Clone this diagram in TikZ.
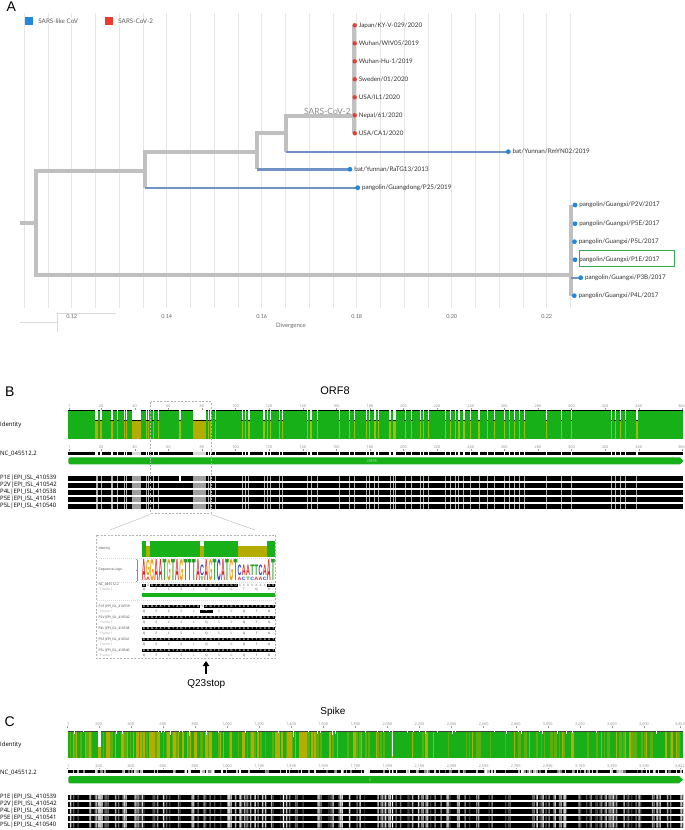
\documentclass[tikz,border=0pt]{standalone}
\usepackage{fontspec}
\setmainfont{Liberation Sans}
\setmonofont{Liberation Mono}
\newfontfamily\latofont{Lato}
\newfontfamily\osfont{Open Sans}
\usepackage{graphicx}
\usepackage{tikz}
\usetikzlibrary{positioning,arrows.meta}

\definecolor{branchgrey}{RGB}{192,192,192}
\definecolor{branchblue}{RGB}{112,146,196}
\definecolor{dotblue}{RGB}{35,135,220}
\definecolor{dotred}{RGB}{232,60,50}
\definecolor{gridgrey}{RGB}{230,230,230}
\definecolor{idgreen}{RGB}{24,176,24}
\definecolor{idolive}{RGB}{180,172,0}
\definecolor{idlime}{RGB}{150,192,10}
\definecolor{boxgreen}{RGB}{50,170,80}
\definecolor{logoA}{RGB}{225,40,40}
\definecolor{logoC}{RGB}{40,70,210}
\definecolor{logoG}{RGB}{240,160,0}
\definecolor{logoT}{RGB}{40,160,40}

% one alignment cell, one codon cell
\newcommand\ntc[1]{\makebox[4.17pt]{#1}}
\newcommand\ntd[1]{\makebox[4.17pt]{\color{black!40}#1}}
\newcommand\aac[1]{\makebox[12.51pt]{#1}}
\newcommand\pangrow[1]{\ntc{A}\ntc{G}\ntc{G}\ntc{A}\ntc{A}\ntc{T}\ntc{G}\ntc{T}\ntc{A}\ntc{G}\ntc{T}\ntc{T}\ntc{T}\ntc{A}#1\ntc{A}\ntc{G}\ntc{T}\ntc{C}\ntc{A}\ntc{T}\ntc{G}\ntc{T}\ntc{C}\ntc{A}\ntc{A}\ntc{T}\ntc{T}\ntc{C}\ntc{A}\ntc{A}\ntc{T}}

\tikzset{
  panel/.style={font=\fontsize{14}{14}\selectfont, inner sep=0pt, anchor=base west},
  paneltitle/.style={inner sep=0pt, anchor=base},
  gridline/.style={draw=gridgrey, line width=0.6pt},
  trunk/.style={draw=branchgrey, line width=4pt},
  twig/.style={draw=branchblue, line width=2.4pt},
  reddot/.style={circle, fill=dotred, inner sep=0pt, minimum size=4.4pt},
  bluedot/.style={circle, fill=dotblue, inner sep=0pt, minimum size=4.8pt},
  tiplabel/.style={font=\latofont\fontsize{6.3}{7}\selectfont, text=black!80, inner sep=0.5pt, anchor=west},
  leglbl/.style={font=\latofont\fontsize{6.3}{7}\selectfont, text=black!65, fill=white, inner sep=0.5pt, anchor=west},
  legsq/.style={inner sep=0pt, minimum size=8pt},
  axislbl/.style={font=\latofont\fontsize{5.5}{6}\selectfont, text=black!60, inner sep=0pt},
  rulerlbl/.style={font=\osfont\fontsize{3.8}{4}\selectfont, text=black!45, inner sep=0pt},
  rulertick/.style={draw=black!40, line width=0.3pt},
  rowlbl/.style={font=\osfont\fontsize{6}{7}\selectfont, inner sep=0pt, anchor=west},
  cdslbl/.style={font=\osfont\fontsize{4}{4}\selectfont, text=idgreen!35!white, inner sep=0pt},
  zoombox/.style={draw=black!30, dash pattern=on 2pt off 1.5pt, line width=0.5pt},
  pointer/.style={draw=black!25, line width=0.5pt},
  sepline/.style={draw=black!15, dash pattern=on 1pt off 1pt, line width=0.3pt},
  insetlbl/.style={font=\osfont\fontsize{3.3}{3.6}\selectfont, inner sep=0pt, anchor=west, text=black!75},
  framelbl/.style={insetlbl, text=black!35},
  aarow/.style={font=\osfont\fontsize{3.1}{3.3}\selectfont, inner sep=0pt, text=black!70, anchor=west},
  ntrow/.style={font=\fontsize{3}{3}\selectfont\bfseries, inner sep=0pt, text=black!4, anchor=west},
  logoletter/.style={font=\bfseries, inner sep=0pt, anchor=south},
}

\begin{document}
\begin{tikzpicture}[x=1pt, y=-1pt]
\useasboundingbox (0,0) rectangle (685,830);
\fill[white] (0,0) rectangle (685,830);

% ---------- A: tree ----------
\node[panel] (lblA) at (6.5,11.7) {A};

\foreach \k in {0,...,23}
  \draw[gridline] ({24.2+\k*23.75},13) -- ({24.2+\k*23.75},308);
\foreach \d/\x [count=\n] in {0.12/71.7, 0.14/166.7, 0.16/261.7, 0.18/356.7, 0.20/451.7, 0.22/546.7}
  \node[axislbl] (tick\n) at (\x,317) {\d};
\node[axislbl, font=\latofont\fontsize{6}{7}\selectfont] (axisName) at (291,326) {Divergence};
\draw[black!15, line width=0.6pt] (20,322.7) -- (57,322.7) (57,313) -- (57,332) (57,313) -- (116,313);

\node[legsq, fill=dotblue] (legBlue) at (29,21) {};
\node[leglbl, right=4.5pt of legBlue] (legBlueLab) {SARS-like CoV};
\node[legsq, fill=dotred] (legRed) at (109,21) {};
\node[leglbl, right=4.5pt of legRed] (legRedLab) {SARS-CoV-2};

% internal nodes
\coordinate (root) at (20,222.7);
\coordinate (n0) at (36,222.7);
\coordinate (n1) at (144.7,170.7);
\coordinate (n2) at (257,151.7);
\coordinate (n3) at (286,133.3);
\coordinate (sc2) at (354,115.7);
\coordinate (gx) at (571,275);
% tips
\coordinate (t1) at (354.7,25.3);
\coordinate (t2) at (354.7,43.3);
\coordinate (t3) at (354.7,61.3);
\coordinate (t4) at (354.7,79.3);
\coordinate (t5) at (354.7,97.3);
\coordinate (t6) at (354.7,115.3);
\coordinate (t7) at (354.7,133.3);
\coordinate (rmyn) at (508.3,151.7);
\coordinate (ratg) at (350,169.3);
\coordinate (gd) at (357.7,187.7);
\coordinate (p2v) at (575,205);
\coordinate (p5e) at (575,223.7);
\coordinate (p5l) at (574.5,241.7);
\coordinate (p1e) at (575,259.7);
\coordinate (p3b) at (580.7,277.7);
\coordinate (p4l) at (574.3,295.7);

\draw[trunk] (root) -- (n0);
\draw[trunk] (n1) -| (n0) |- (gx);
\draw[trunk] (n2) -| (n1) -- (n1 |- gd);
\draw[twig] (n1 |- gd) -- (gd);
\draw[trunk] (n3) -| (n2) -- (n2 |- ratg);
\draw[twig] (n2 |- ratg) -- (ratg);
\draw[trunk] (sc2) -| (n3) -- (n3 |- rmyn);
\draw[twig] (n3 |- rmyn) -- (rmyn);
\draw[trunk] (sc2 |- t1) -- (sc2 |- t7);
\draw[trunk] (gx |- p2v) -- (gx |- p4l);
\draw[twig] (gx |- p3b) -- (p3b);

\node[font=\latofont\fontsize{8.5}{9}\selectfont, text=black!45, inner sep=0pt, anchor=south east] (cladeSC2) at (351,114.3) {SARS-CoV-2};

\node[reddot] (t1d) at (t1) {};
\node[tiplabel, right=1pt of t1d] (t1l) {Japan/KY-V-029/2020};
\node[reddot] (t2d) at (t2) {};
\node[tiplabel, right=1pt of t2d] (t2l) {Wuhan/WIV05/2019};
\node[reddot] (t3d) at (t3) {};
\node[tiplabel, right=1pt of t3d] (t3l) {Wuhan-Hu-1/2019};
\node[reddot] (t4d) at (t4) {};
\node[tiplabel, right=1pt of t4d] (t4l) {Sweden/01/2020};
\node[reddot] (t5d) at (t5) {};
\node[tiplabel, right=1pt of t5d] (t5l) {USA/IL1/2020};
\node[reddot] (t6d) at (t6) {};
\node[tiplabel, right=1pt of t6d] (t6l) {Nepal/61/2020};
\node[reddot] (t7d) at (t7) {};
\node[tiplabel, right=1pt of t7d] (t7l) {USA/CA1/2020};

\node[bluedot] (rmynd) at (rmyn) {};
\node[tiplabel, right=1pt of rmynd] (rmynl) {bat/Yunnan/RmYN02/2019};
\node[bluedot] (ratgd) at (ratg) {};
\node[tiplabel, right=1pt of ratgd] (ratgl) {bat/Yunnan/RaTG13/2013};
\node[bluedot] (gdd) at (gd) {};
\node[tiplabel, right=1pt of gdd] (gdl) {pangolin/Guangdong/P25/2019};

\node[bluedot] (p2vd) at (p2v) {};
\node[tiplabel, right=1pt of p2vd] (p2vl) {pangolin/Guangxi/P2V/2017};
\node[bluedot] (p5ed) at (p5e) {};
\node[tiplabel, right=1pt of p5ed] (p5el) {pangolin/Guangxi/P5E/2017};
\node[bluedot] (p5ld) at (p5l) {};
\node[tiplabel, right=1pt of p5ld] (p5ll) {pangolin/Guangxi/P5L/2017};
\node[bluedot] (p1ed) at (p1e) {};
\node[tiplabel, right=1pt of p1ed] (p1el) {pangolin/Guangxi/P1E/2017};
\node[bluedot] (p3bd) at (p3b) {};
\node[tiplabel, right=1pt of p3bd] (p3bl) {pangolin/Guangxi/P3B/2017};
\node[bluedot] (p4ld) at (p4l) {};
\node[tiplabel, right=1pt of p4ld] (p4ll) {pangolin/Guangxi/P4L/2017};

\draw[boxgreen, line width=0.9pt] (579,250.7) rectangle (674,266.7);

% ---------- B: ORF8 ----------
\node[panel] (lblB) at (5,396.7) {B};
\node[paneltitle, font=\fontsize{11}{11}\selectfont] (ttlB) at (335,394) {ORF8};

% rulers
\foreach \ry [count=\m] in {406,446.7} {
  \node[rulerlbl] (rb\m-0) at (69.1,\ry) {1};
  \node[rulerlbl, anchor=east] (rb\m-e) at (685,\ry) {366};
  \foreach \p [count=\n] in {20,40,...,340}
    \node[rulerlbl] (rb\m-\n) at ({68.3+(\p-0.5)*1.68},\ry) {\p};
  \foreach \p in {1,20,40,60,80,100,120,140,160,180,200,220,240,260,280,300,320,340,366}
    \draw[rulertick] ({68.3+(\p-0.5)*1.68},\ry+2.2) -- ({68.3+(\p-0.5)*1.68},\ry+3.8);
}

% identity
\node[rowlbl] (idB) at (0,425) {Identity};
\fill[idgreen] (68.3,410.7) rectangle (683.3,439);
\draw[black, line width=0.6pt] (68.3,410.7) -- (683.3,410.7);
\foreach \p in {17,18,20,26,27,30,34,35} {
  \pgfmathsetmacro\gx{68.3+(\p-0.5)*1.68}
  \fill[white] (\gx-0.6,410) rectangle (\gx+0.6,420);
  \fill[idolive] (\gx-0.6,420) rectangle (\gx+0.6,439);
  \draw[black, line width=0.5pt] (\gx-0.7,420) -- (\gx+0.7,420);
}
\foreach \p in {47,48,51,54,67,84,85,88,104,106,108,117,119,121,126,128,143,145,149,162,168,171,178,180,183,185,192,194,195,201,205,210,212,215,225,228,231,233,236,240,245,250,254,260,263,266,269,272,285,294,300,324,326,329,332,339} {
  \pgfmathsetmacro\gx{68.3+(\p-0.5)*1.68}
  \fill[white] (\gx-0.6,410) rectangle (\gx+0.6,420);
  \fill[idlime] (\gx-0.6,420) rectangle (\gx+0.6,439);
  \draw[black, line width=0.5pt] (\gx-0.7,420) -- (\gx+0.7,420);
}
\foreach \a/\b in {39/43,75/82} {
  \pgfmathsetmacro\ga{68.3+(\a-1)*1.68}
  \pgfmathsetmacro\gb{68.3+\b*1.68}
  \fill[white] (\ga,410) rectangle (\gb,420);
  \fill[idolive] (\ga,420) rectangle (\gb,439);
  \draw[black, line width=0.5pt] (\ga,420) -- (\gb,420);
}

% reference
\node[rowlbl] (ncB) at (0,453.3) {NC\_045512.2};
\fill[black] (68.3,451.7) rectangle (683.3,455);
\foreach \p in {17,18,20,26,27,30,34,35,47,48,51,54,84,85,88,104,106,108,117,119,121,126,128,143,145,149,162,168,171,178,180,183,185,192,194,195,201,205,210,212,215,225,228,231,233,236,240,245,250,254,260,263,266,269,272,285,294,300,324,326,329,332,339} {
  \pgfmathsetmacro\gx{68.3+(\p-0.5)*1.68}
  \fill[white] (\gx-0.6,451.5) rectangle (\gx+0.6,455.2);
}
\foreach \a/\b in {39/43,75/82}
  \fill[black!15] ({68.3+(\a-1)*1.68},451.5) rectangle ({68.3+\b*1.68},455.2);
\fill[idgreen] (680,457.3) -- (683.5,460.8) -- (680,464.3) {[rounded corners=1.5pt] -- (68.3,464.3) -- (68.3,457.3)} -- cycle;
\node[cdslbl] (cdsB) at (372,460.8) {ORF8};

% sequences
\foreach \lab [count=\i from 0] in {P1E|EPI\_ISL\_410539, P2V|EPI\_ISL\_410542, P4L|EPI\_ISL\_410538, P5E|EPI\_ISL\_410541, P5L|EPI\_ISL\_410540} {
  \node[rowlbl] (seqB\i) at (0,{478.3+7*\i}) {\lab};
  \fill[black] (68.3,{475.9+7*\i}) rectangle (683.3,{480.7+7*\i});
  \foreach \p in {17,18,20,26,27,30,34,35,47,48,51,54,84,85,88,104,106,108,117,119,121,126,128,143,145,149,162,168,171,178,180,183,185,192,194,195,201,205,210,212,215,225,228,231,233,236,240,245,250,254,260,263,266,269,272,285,294,300,324,326,329,332,339} {
    \pgfmathsetmacro\gx{68.3+(\p-0.5)*1.68}
    \fill[black!32] (\gx-0.5,{475.9+7*\i}) rectangle (\gx+0.5,{480.7+7*\i});
  }
  \foreach \a/\b in {39/43,75/82}
    \fill[black!38] ({68.3+(\a-1)*1.68},{475.9+7*\i}) rectangle ({68.3+\b*1.68},{480.7+7*\i});
}
\fill[white] ({68.3+66*1.68},475.9) rectangle ({68.3+67*1.68},480.7);

% zoom frame and pointers
\draw[zoombox] (150.7,401.7) rectangle (211,513.3);
\coordinate (zbL) at (150.2,514.5);
\coordinate (zbR) at (211.3,514.5);
\coordinate (inL) at (110,530);
\coordinate (inR) at (255,530);
\draw[pointer] (zbL) -- (inL);
\draw[pointer] (zbR) -- (inR);

% ---------- B inset ----------
\draw[zoombox] (96.5,535) rectangle (275.5,658.3);
\draw[sepline] (97,558.4) -- (275,558.4);
\draw[sepline] (97,582.2) -- (275,582.2);
\draw[sepline] (97,600.5) -- (275,600.5);

\node[insetlbl] (inId) at (98.5,549) {Identity};
\fill[idgreen] (141.7,540.7) rectangle (275,557);
\foreach \a/\b in {1/1,14/14,23/29} {
  \fill[white] ({141.7+\a*4.17},540.2) rectangle ({141.7+(\b+1)*4.17},546);
  \fill[idolive] ({141.7+\a*4.17},546) rectangle ({141.7+(\b+1)*4.17},557);
}

\node[insetlbl] (inLogo) at (98.5,570) {Sequence Logo};
\draw[black!45, line width=0.3pt] (137,559.5) -- (137,581) (135.8,559.5) -- (137,559.5) (135.8,570.2) -- (137,570.2) (135.8,581) -- (137,581);
\foreach \c/\b/\h/\base in {0/A/21/581, 1/G/15.5/575.8, 2/G/21/581, 3/A/21/581, 4/A/21/581, 5/T/21/581, 6/G/21/581, 7/T/21/581, 8/A/21/581, 9/G/21/581, 10/T/21/581, 11/T/21/581, 12/T/21/581, 13/A/21/581, 14/C/10.5/575.8, 15/A/21/581, 16/G/21/581, 17/T/21/581, 18/C/21/581, 19/A/21/581, 20/T/21/581, 21/G/21/581, 22/T/21/581, 23/C/10.5/575.8, 24/A/10.5/575.8, 25/A/10.5/575.8, 26/T/10.5/575.8, 27/T/10.5/575.8, 28/C/10.5/575.8, 29/A/10.5/575.8, 30/A/21/581, 31/T/21/581}
  \node[logoletter, text=logo\b] (logo\c) at ({141.7+(\c+0.5)*4.17},\base) {\resizebox{3.9pt}{\h pt}{\b}};
\foreach \c/\b in {1/A, 14/T, 23/A, 24/C, 25/T, 26/C, 27/A, 28/A, 29/C}
  \node[logoletter, text=logo\b] (logoSub\c) at ({141.7+(\c+0.5)*4.17},580.8) {\resizebox{3.9pt}{3.3pt}{\b}};

\node[insetlbl] (inNC) at (98.5,584.6) {NC\_045512.2};
\node[framelbl] (inNCf) at (100,589) {Frame 1};
\fill[black] (141.7,583.5) rectangle (275,586.9);
\foreach \a/\b in {1/1,23/29}
  \fill[white] ({141.7+\a*4.17},583.4) rectangle ({141.7+(\b+1)*4.17},587);
\node[ntrow] (ncSeq) at (141.7,585.2) {\ntc{A}\ntd{A}\ntc{G}\ntc{A}\ntc{A}\ntc{U}\ntc{G}\ntc{U}\ntc{A}\ntc{G}\ntc{U}\ntc{U}\ntc{U}\ntc{A}\ntc{C}\ntc{A}\ntc{G}\ntc{U}\ntc{C}\ntc{A}\ntc{U}\ntc{G}\ntc{U}\ntd{A}\ntd{C}\ntd{U}\ntd{C}\ntd{A}\ntd{A}\ntd{C}\ntc{A}\ntc{U}};
\node[aarow] (ncAA) at (137.55,589.9) {\aac{Q}\aac{E}\aac{C}\aac{S}\aac{L}\aac{Q}\aac{S}\aac{C}\aac{T}\aac{Q}\aac{H}};
\fill[idgreen] (141.7,592.7) rectangle (275,597.3);

\foreach \lab [count=\i from 0] in {P1E|EPI\_ISL\_410539, P2V|EPI\_ISL\_410542, P4L|EPI\_ISL\_410538, P5E|EPI\_ISL\_410541, P5L|EPI\_ISL\_410540} {
  \node[insetlbl] (inRow\i) at (98.5,{606.5+11*\i}) {\lab};
  \node[framelbl] (inRowF\i) at (100,{611+11*\i}) {Frame 1};
  \fill[black] (141.7,{605+11*\i}) rectangle (275,{608.4+11*\i});
}
\fill[white] (200.1,604.9) rectangle (204.3,608.5);
\fill[black] (200.1,609.5) rectangle (212.6,612.9);
\node[ntrow] (pSeq0) at (141.7,606.7) {\pangrow{\ntd{T}}};
\node[aarow] (pAA0) at (137.55,611.2) {\aac{Q}\aac{E}\aac{C}\aac{S}\aac{L}\aac{\color{white}*}\aac{S}\aac{C}\aac{Q}\aac{F}\aac{N}};
\foreach \i in {1,...,4} {
  \node[ntrow] (pSeq\i) at (141.7,{606.7+11*\i}) {\pangrow{\ntc{C}}};
  \node[aarow] (pAA\i) at (137.55,{611.2+11*\i}) {\aac{Q}\aac{E}\aac{C}\aac{S}\aac{L}\aac{Q}\aac{S}\aac{C}\aac{Q}\aac{F}\aac{N}};
}

\coordinate (arrTail) at (206,673.5);
\coordinate (arrHead) at (206,661);
\draw[-{Triangle[length=5pt,width=6.5pt]}, line width=1.6pt] (arrTail) -- (arrHead);
\node[paneltitle, font=\fontsize{10}{10}\selectfont] (q23) at (206.3,686.7) {Q23stop};

% ---------- C: Spike ----------
\node[panel] (lblC) at (4.5,726.7) {C};
\node[paneltitle, font=\fontsize{10}{10}\selectfont] (ttlC) at (333,714) {Spike};

\node[rulerlbl] (rc0) at (68.3,724) {1};
\node[rulerlbl, anchor=east] (rcE) at (685,724) {3,823};
\foreach \p/\t [count=\n] in {200/200, 400/400, 600/600, 800/800, 1000/{1,000}, 1200/{1,200}, 1400/{1,400}, 1600/{1,600}, 1800/{1,800}, 2000/{2,000}, 2200/{2,200}, 2400/{2,400}, 2600/{2,600}, 2800/{2,800}, 3000/{3,000}, 3200/{3,200}, 3400/{3,400}, 3600/{3,600}}
  \node[rulerlbl] (rc\n) at ({66.8+(\p-1)*0.16038},724) {\t};
\node[rulerlbl] (rd0) at (68.3,766) {1};
\node[rulerlbl, anchor=east] (rdE) at (685,766) {3,822};
\foreach \p/\t [count=\n] in {200/200, 400/400, 600/600, 800/800, 1000/{1,000}, 1200/{1,199}, 1400/{1,399}, 1600/{1,599}, 1800/{1,799}, 2000/{1,999}, 2200/{2,199}, 2400/{2,399}, 2600/{2,599}, 2800/{2,799}, 3000/{2,999}, 3200/{3,199}, 3400/{3,399}, 3600/{3,599}}
  \node[rulerlbl] (rd\n) at ({66.8+(\p-1)*0.16038},766) {\t};
\foreach \p in {1,200,400,...,3600,3823} {
  \draw[rulertick] ({66.8+(\p-1)*0.16038},726.3) -- ({66.8+(\p-1)*0.16038},728.3);
  \draw[rulertick] ({66.8+(\p-1)*0.16038},768.1) -- ({66.8+(\p-1)*0.16038},769.4);
}

% identity
\node[rowlbl] (idC) at (0,745) {Identity};
\pgfmathsetseed{3}
\fill[idgreen] (68.3,730.7) rectangle (683,758.3);
\foreach \i in {0,...,409} {
  \pgfmathsetmacro\sx{68.3+\i*1.5}
  \pgfmathrandominteger{\r}{0}{100}
  \pgfmathtruncatemacro\bias{\sx<345 ? 0 : 25}
  \pgfmathtruncatemacro\m{(\r+\bias)>60 ? 100 : ((\r+\bias)>35 ? 55 : 0)}
  \fill[idgreen!\m!idolive] (\sx,730.7) rectangle (\sx+1.6,758.3);
}
\draw[black!75, line width=0.4pt] (68.3,730.9) -- (683,730.9);
\foreach \i in {0,...,204} {
  \pgfmathsetmacro\sx{68.3+\i*3}
  \pgfmathrandominteger{\r}{0}{100}
  \ifnum\r<22
    \pgfmathsetmacro\dep{731.2+rnd*3.5}
    \fill[white] (\sx,730) rectangle (\sx+1,\dep);
  \fi
}
\fill[white] (98.3,730) rectangle (100.6,747);
\fill[idolive] (98.3,747) rectangle (100.6,758.3);
\fill[white] (391.8,730) rectangle (393.4,756);
\fill[idolive] (391.8,756) rectangle (393.4,758.3);
\fill[white] (188.5,730) rectangle (189.5,736);
\fill[white] (292.5,730) rectangle (293.5,737);

% reference
\node[rowlbl] (ncC) at (0,772.7) {NC\_045512.2};
\fill[black] (68.3,770) rectangle (683,773.3);
\foreach \i in {0,...,409} {
  \pgfmathsetmacro\sx{68.3+\i*1.5}
  \pgfmathrandominteger{\r}{0}{100}
  \ifnum\r<30
    \pgfmathrandominteger{\g}{0}{60}
    \fill[black!\g] (\sx,770) rectangle (\sx+1.2,773.3);
  \fi
}
\fill[white] (389,770) rectangle (390,773.3) (392,770) rectangle (393.4,773.3) (396,770) rectangle (397,773.3);
\fill[idgreen] (679,776) -- (683,779.7) -- (679,783.3) {[rounded corners=1.5pt] -- (68.3,783.3) -- (68.3,776)} -- cycle;
\node[cdslbl] (cdsC) at (370,779.7) {S};

% sequences
\foreach \lab [count=\i from 0] in {P1E|EPI\_ISL\_410539, P2V|EPI\_ISL\_410542, P4L|EPI\_ISL\_410538, P5E|EPI\_ISL\_410541, P5L|EPI\_ISL\_410540} {
  \node[rowlbl] (seqC\i) at (0,{797.3+7*\i}) {\lab};
  \fill[black] (68.3,{794.9+7*\i}) rectangle (683,{799.7+7*\i});
}
\foreach \i in {0,...,409} {
  \pgfmathsetmacro\sx{68.3+\i*1.5}
  \pgfmathrandominteger{\r}{0}{100}
  \ifnum\r<38
    \pgfmathrandominteger{\g}{15}{85}
    \fill[black!\g] \foreach \j in {0,...,4} {(\sx,{794.9+7*\j}) rectangle (\sx+1.5,{799.7+7*\j})};
  \fi
}
\fill[black!22] \foreach \j in {0,...,4} {(97.5,{794.9+7*\j}) rectangle (101.7,{799.7+7*\j})};
\fill[white] \foreach \j in {0,...,4} {(282.8,{794.9+7*\j}) rectangle (283.8,{799.7+7*\j})};
\fill[white] \foreach \j in {0,...,4} {(391.8,{794.9+7*\j}) rectangle (393.2,{799.7+7*\j})};
\fill[black!45] \foreach \j in {0,...,4} {(476.2,{794.9+7*\j}) rectangle (477.4,{799.7+7*\j})};

\end{tikzpicture}
\end{document}
